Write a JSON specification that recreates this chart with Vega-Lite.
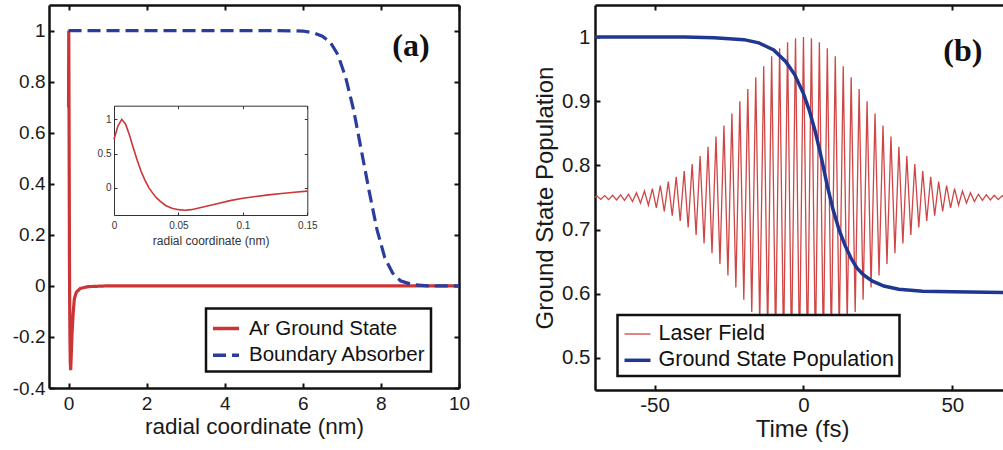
{
  "$schema": "https://vega.github.io/schema/vega-lite/v6.json",
  "padding": {"left": 12, "top": 4, "right": 0, "bottom": 0},
  "background": "white",
  "bounds": "flush",
  "spacing": 136,
  "resolve": {"scale": {"color": "independent", "strokeDash": "independent", "strokeWidth": "independent"}},
  "config": {
    "view": {"stroke": null},
    "font": "Liberation Sans",
    "axis": {"grid": false, "labelFont": "Liberation Sans", "titleFont": "Liberation Sans", "titleFontWeight": "normal", "labelColor": "#1a1a1a", "titleColor": "#1a1a1a", "domainColor": "#111", "tickColor": "#111", "labelFlush": false, "labelOverlap": false},
    "legend": {"strokeColor": "#111", "strokeWidth": 2.5, "fillColor": "white", "cornerRadius": 0, "labelFont": "Liberation Sans", "labelColor": "#111", "labelLimit": 400}
  },
  "hconcat": [
    {
      "width": 410,
      "height": 383,
      "resolve": {"scale": {"x": "independent", "y": "independent"}},
      "layer": [
        {
          "data": {"values": [
            {"series": "Ar Ground State", "r": 0, "v": 0.7},
            {"series": "Ar Ground State", "r": 0.006, "v": 1.0},
            {"series": "Ar Ground State", "r": 0.015, "v": 0.58},
            {"series": "Ar Ground State", "r": 0.024, "v": 0.11},
            {"series": "Ar Ground State", "r": 0.03, "v": -0.08},
            {"series": "Ar Ground State", "r": 0.036, "v": -0.2},
            {"series": "Ar Ground State", "r": 0.045, "v": -0.3},
            {"series": "Ar Ground State", "r": 0.055, "v": -0.33},
            {"series": "Ar Ground State", "r": 0.07, "v": -0.27},
            {"series": "Ar Ground State", "r": 0.09, "v": -0.185},
            {"series": "Ar Ground State", "r": 0.12, "v": -0.105},
            {"series": "Ar Ground State", "r": 0.15, "v": -0.05},
            {"series": "Ar Ground State", "r": 0.2, "v": -0.025},
            {"series": "Ar Ground State", "r": 0.3, "v": -0.01},
            {"series": "Ar Ground State", "r": 0.5, "v": -0.003},
            {"series": "Ar Ground State", "r": 1, "v": 0},
            {"series": "Ar Ground State", "r": 10, "v": 0},
            {"series": "Boundary Absorber", "r": 0, "v": 1},
            {"series": "Boundary Absorber", "r": 5, "v": 1},
            {"series": "Boundary Absorber", "r": 6, "v": 0.998},
            {"series": "Boundary Absorber", "r": 6.3, "v": 0.99},
            {"series": "Boundary Absorber", "r": 6.5, "v": 0.978},
            {"series": "Boundary Absorber", "r": 6.7, "v": 0.955},
            {"series": "Boundary Absorber", "r": 6.9, "v": 0.905},
            {"series": "Boundary Absorber", "r": 7.1, "v": 0.815},
            {"series": "Boundary Absorber", "r": 7.3, "v": 0.69},
            {"series": "Boundary Absorber", "r": 7.5, "v": 0.53},
            {"series": "Boundary Absorber", "r": 7.7, "v": 0.37},
            {"series": "Boundary Absorber", "r": 7.9, "v": 0.22},
            {"series": "Boundary Absorber", "r": 8.1, "v": 0.11},
            {"series": "Boundary Absorber", "r": 8.3, "v": 0.05},
            {"series": "Boundary Absorber", "r": 8.5, "v": 0.02},
            {"series": "Boundary Absorber", "r": 8.8, "v": 0.005},
            {"series": "Boundary Absorber", "r": 9.2, "v": 0},
            {"series": "Boundary Absorber", "r": 10, "v": 0}
          ]},
          "mark": {"type": "line", "clip": true, "strokeWidth": 3.2},
          "encoding": {
            "x": {"field": "r", "type": "quantitative", "scale": {"domain": [-0.5, 10], "nice": false, "zero": false},
              "axis": {"orient": "bottom", "values": [0, 2, 4, 6, 8, 10], "title": "radial coordinate (nm)", "labelFontSize": 19, "labelPadding": 11, "tickSize": -5, "tickWidth": 2, "domainWidth": 2.5, "titleFontSize": 22.5, "titleBaseline": "alphabetic", "titleY": 45, "labelExpr": "replace(format(datum.value, '~g'), '\u2212', '-')"}},
            "y": {"field": "v", "type": "quantitative", "scale": {"domain": [-0.4, 1.1], "nice": false, "zero": false},
              "axis": {"orient": "left", "values": [-0.4, -0.2, 0, 0.2, 0.4, 0.6, 0.8, 1], "title": null, "labelFontSize": 19, "labelPadding": 9, "tickSize": -5, "tickWidth": 2, "domainWidth": 2.5, "labelExpr": "replace(format(datum.value, '~g'), '\u2212', '-')"}},
            "color": {"field": "series", "type": "nominal", "scale": {"domain": ["Ar Ground State", "Boundary Absorber"], "range": ["#cc3535", "#2a3c9c"]},
              "legend": {"orient": "none", "legendX": 157, "legendY": 303.5, "title": null, "direction": "vertical", "symbolType": "stroke", "symbolSize": 676, "symbolStrokeWidth": 3.5, "labelFontSize": 20.5, "padding": 5, "rowPadding": 0.7, "labelOffset": 8}},
            "strokeDash": {"field": "series", "type": "nominal", "scale": {"domain": ["Ar Ground State", "Boundary Absorber"], "range": [[1, 0], [13, 6]]},
              "legend": {"orient": "none", "legendX": 157, "legendY": 303.5, "title": null, "direction": "vertical", "symbolType": "stroke", "symbolSize": 676, "symbolStrokeWidth": 3.5, "labelFontSize": 20.5, "padding": 5, "rowPadding": 0.7, "labelOffset": 8}}
          }
        },
        {
          "data": {"values": [{"label": "(a)"}]},
          "mark": {"type": "text", "font": "Liberation Serif", "fontWeight": "bold", "fontSize": 32, "fill": "#111", "align": "center", "baseline": "middle"},
          "encoding": {
            "x": {"datum": 8.77, "type": "quantitative", "scale": {"domain": [-0.5, 10], "nice": false, "zero": false},
              "axis": {"orient": "top", "values": [0, 2, 4, 6, 8, 10], "labels": false, "title": null, "tickSize": -5, "tickWidth": 2, "domainWidth": 2.5}},
            "y": {"datum": 0.94, "type": "quantitative", "scale": {"domain": [-0.4, 1.1], "nice": false, "zero": false},
              "axis": {"orient": "right", "values": [-0.4, -0.2, 0, 0.2, 0.4, 0.6, 0.8, 1], "labels": false, "title": null, "tickSize": -5, "tickWidth": 2, "domainWidth": 2.5}},
            "text": {"field": "label"}
          }
        },
        {
          "data": {"name": "inset", "values": [
            {"r": 0, "v": 0.71}, {"r": 0.003, "v": 0.9}, {"r": 0.006, "v": 1.0}, {"r": 0.009, "v": 0.93},
            {"r": 0.012, "v": 0.77}, {"r": 0.015, "v": 0.58}, {"r": 0.018, "v": 0.4}, {"r": 0.021, "v": 0.24},
            {"r": 0.024, "v": 0.11}, {"r": 0.027, "v": 0.0}, {"r": 0.03, "v": -0.08}, {"r": 0.033, "v": -0.15},
            {"r": 0.036, "v": -0.2}, {"r": 0.04, "v": -0.26}, {"r": 0.045, "v": -0.3}, {"r": 0.05, "v": -0.322},
            {"r": 0.055, "v": -0.33}, {"r": 0.06, "v": -0.322}, {"r": 0.07, "v": -0.28}, {"r": 0.08, "v": -0.235},
            {"r": 0.09, "v": -0.19}, {"r": 0.1, "v": -0.155}, {"r": 0.11, "v": -0.128}, {"r": 0.12, "v": -0.105},
            {"r": 0.13, "v": -0.085}, {"r": 0.14, "v": -0.066}, {"r": 0.15, "v": -0.05}
          ]},
          "mark": {"type": "line", "color": "#cc3535", "strokeWidth": 1.6},
          "encoding": {
            "x": {"field": "r", "type": "quantitative", "scale": {"domain": [0, 0.15], "range": [65, 258.3], "nice": false, "zero": false},
              "axis": {"orient": "bottom", "offset": -173, "values": [0, 0.05, 0.1, 0.15], "labelFontSize": 10, "labelPadding": 8, "tickSize": -3, "tickWidth": 1, "domainWidth": 1, "domainColor": "#333", "tickColor": "#333", "labelColor": "#333", "title": "radial coordinate (nm)", "titleFontSize": 12, "titleColor": "#333", "titleBaseline": "alphabetic", "titleY": 29, "labelExpr": "format(datum.value, '~g')"}},
            "y": {"field": "v", "type": "quantitative", "scale": {"domain": [-0.4, 1.2], "range": [210, 100.7], "nice": false, "zero": false},
              "axis": {"orient": "left", "offset": -65, "values": [0, 0.5, 1], "labelFontSize": 10, "labelPadding": 6, "tickSize": -3, "tickWidth": 1, "domainWidth": 1, "domainColor": "#333", "tickColor": "#333", "labelColor": "#333", "title": null, "labelExpr": "format(datum.value, '~g')"}}
          }
        },
        {
          "data": {"name": "inset"},
          "mark": {"type": "line", "strokeOpacity": 0},
          "encoding": {
            "x": {"field": "r", "type": "quantitative", "scale": {"domain": [0, 0.15], "range": [65, 258.3], "nice": false, "zero": false},
              "axis": {"orient": "top", "offset": -100.7, "values": [0, 0.05, 0.1, 0.15], "labels": false, "tickSize": -3, "tickWidth": 1, "domainWidth": 1, "domainColor": "#333", "tickColor": "#333", "title": null}},
            "y": {"field": "v", "type": "quantitative", "scale": {"domain": [-0.4, 1.2], "range": [210, 100.7], "nice": false, "zero": false},
              "axis": {"orient": "right", "offset": -151.7, "values": [0, 0.5, 1], "labels": false, "tickSize": -3, "tickWidth": 1, "domainWidth": 1, "domainColor": "#333", "tickColor": "#333", "title": null}}
          }
        }
      ]
    },
    {
      "width": 408,
      "height": 385,
      "resolve": {"scale": {"x": "independent", "y": "independent"}},
      "layer": [
        {
          "data": {"values": [
            {"series": "Laser Field", "t": -70, "v": 0.75},
            {"series": "Laser Field", "t": -69.42, "v": 0.753},
            {"series": "Laser Field", "t": -68.09, "v": 0.747},
            {"series": "Laser Field", "t": -66.75, "v": 0.753},
            {"series": "Laser Field", "t": -65.42, "v": 0.7467},
            {"series": "Laser Field", "t": -64.08, "v": 0.7535},
            {"series": "Laser Field", "t": -62.75, "v": 0.7462},
            {"series": "Laser Field", "t": -61.41, "v": 0.754},
            {"series": "Laser Field", "t": -60.08, "v": 0.7456},
            {"series": "Laser Field", "t": -58.74, "v": 0.7552},
            {"series": "Laser Field", "t": -57.41, "v": 0.7438},
            {"series": "Laser Field", "t": -56.07, "v": 0.7574},
            {"series": "Laser Field", "t": -54.74, "v": 0.7413},
            {"series": "Laser Field", "t": -53.4, "v": 0.7602},
            {"series": "Laser Field", "t": -52.07, "v": 0.7381},
            {"series": "Laser Field", "t": -50.73, "v": 0.7639},
            {"series": "Laser Field", "t": -49.4, "v": 0.7338},
            {"series": "Laser Field", "t": -48.06, "v": 0.7687},
            {"series": "Laser Field", "t": -46.73, "v": 0.7284},
            {"series": "Laser Field", "t": -45.39, "v": 0.7748},
            {"series": "Laser Field", "t": -44.06, "v": 0.7217},
            {"series": "Laser Field", "t": -42.72, "v": 0.7823},
            {"series": "Laser Field", "t": -41.39, "v": 0.7134},
            {"series": "Laser Field", "t": -40.05, "v": 0.7913},
            {"series": "Laser Field", "t": -38.72, "v": 0.7035},
            {"series": "Laser Field", "t": -37.38, "v": 0.8021},
            {"series": "Laser Field", "t": -36.05, "v": 0.6918},
            {"series": "Laser Field", "t": -34.71, "v": 0.8147},
            {"series": "Laser Field", "t": -33.38, "v": 0.6784},
            {"series": "Laser Field", "t": -32.04, "v": 0.829},
            {"series": "Laser Field", "t": -30.71, "v": 0.6632},
            {"series": "Laser Field", "t": -29.37, "v": 0.845},
            {"series": "Laser Field", "t": -28.04, "v": 0.6465},
            {"series": "Laser Field", "t": -26.7, "v": 0.8623},
            {"series": "Laser Field", "t": -25.37, "v": 0.6285},
            {"series": "Laser Field", "t": -24.03, "v": 0.8808},
            {"series": "Laser Field", "t": -22.7, "v": 0.6097},
            {"series": "Laser Field", "t": -21.36, "v": 0.8998},
            {"series": "Laser Field", "t": -20.03, "v": 0.5906},
            {"series": "Laser Field", "t": -18.69, "v": 0.9189},
            {"series": "Laser Field", "t": -17.36, "v": 0.5717},
            {"series": "Laser Field", "t": -16.02, "v": 0.9375},
            {"series": "Laser Field", "t": -14.69, "v": 0.5537},
            {"series": "Laser Field", "t": -13.35, "v": 0.9547},
            {"series": "Laser Field", "t": -12.02, "v": 0.5374},
            {"series": "Laser Field", "t": -10.68, "v": 0.97},
            {"series": "Laser Field", "t": -9.35, "v": 0.5233},
            {"series": "Laser Field", "t": -8.01, "v": 0.9826},
            {"series": "Laser Field", "t": -6.68, "v": 0.5122},
            {"series": "Laser Field", "t": -5.34, "v": 0.9921},
            {"series": "Laser Field", "t": -4.01, "v": 0.5045},
            {"series": "Laser Field", "t": -2.67, "v": 0.998},
            {"series": "Laser Field", "t": -1.34, "v": 0.5005},
            {"series": "Laser Field", "t": 0, "v": 1.0},
            {"series": "Laser Field", "t": 1.34, "v": 0.5005},
            {"series": "Laser Field", "t": 2.67, "v": 0.998},
            {"series": "Laser Field", "t": 4.01, "v": 0.5045},
            {"series": "Laser Field", "t": 5.34, "v": 0.9921},
            {"series": "Laser Field", "t": 6.68, "v": 0.5122},
            {"series": "Laser Field", "t": 8.01, "v": 0.9826},
            {"series": "Laser Field", "t": 9.35, "v": 0.5233},
            {"series": "Laser Field", "t": 10.68, "v": 0.97},
            {"series": "Laser Field", "t": 12.02, "v": 0.5374},
            {"series": "Laser Field", "t": 13.35, "v": 0.9547},
            {"series": "Laser Field", "t": 14.69, "v": 0.5537},
            {"series": "Laser Field", "t": 16.02, "v": 0.9375},
            {"series": "Laser Field", "t": 17.36, "v": 0.5717},
            {"series": "Laser Field", "t": 18.69, "v": 0.9189},
            {"series": "Laser Field", "t": 20.03, "v": 0.5906},
            {"series": "Laser Field", "t": 21.36, "v": 0.8998},
            {"series": "Laser Field", "t": 22.7, "v": 0.6097},
            {"series": "Laser Field", "t": 24.03, "v": 0.8808},
            {"series": "Laser Field", "t": 25.37, "v": 0.6285},
            {"series": "Laser Field", "t": 26.7, "v": 0.8623},
            {"series": "Laser Field", "t": 28.04, "v": 0.6465},
            {"series": "Laser Field", "t": 29.37, "v": 0.845},
            {"series": "Laser Field", "t": 30.71, "v": 0.6632},
            {"series": "Laser Field", "t": 32.04, "v": 0.829},
            {"series": "Laser Field", "t": 33.38, "v": 0.6784},
            {"series": "Laser Field", "t": 34.71, "v": 0.8147},
            {"series": "Laser Field", "t": 36.05, "v": 0.6918},
            {"series": "Laser Field", "t": 37.38, "v": 0.8021},
            {"series": "Laser Field", "t": 38.72, "v": 0.7035},
            {"series": "Laser Field", "t": 40.05, "v": 0.7913},
            {"series": "Laser Field", "t": 41.39, "v": 0.7134},
            {"series": "Laser Field", "t": 42.72, "v": 0.7823},
            {"series": "Laser Field", "t": 44.06, "v": 0.7217},
            {"series": "Laser Field", "t": 45.39, "v": 0.7748},
            {"series": "Laser Field", "t": 46.73, "v": 0.7284},
            {"series": "Laser Field", "t": 48.06, "v": 0.7687},
            {"series": "Laser Field", "t": 49.4, "v": 0.7338},
            {"series": "Laser Field", "t": 50.73, "v": 0.7639},
            {"series": "Laser Field", "t": 52.07, "v": 0.7381},
            {"series": "Laser Field", "t": 53.4, "v": 0.7602},
            {"series": "Laser Field", "t": 54.74, "v": 0.7413},
            {"series": "Laser Field", "t": 56.07, "v": 0.7574},
            {"series": "Laser Field", "t": 57.41, "v": 0.7438},
            {"series": "Laser Field", "t": 58.74, "v": 0.7552},
            {"series": "Laser Field", "t": 60.08, "v": 0.7456},
            {"series": "Laser Field", "t": 61.41, "v": 0.754},
            {"series": "Laser Field", "t": 62.75, "v": 0.7462},
            {"series": "Laser Field", "t": 64.08, "v": 0.7535},
            {"series": "Laser Field", "t": 65.42, "v": 0.7467},
            {"series": "Laser Field", "t": 66.75, "v": 0.753},
            {"series": "Laser Field", "t": 68.09, "v": 0.747},
            {"series": "Ground State Population", "t": -70, "v": 1.0},
            {"series": "Ground State Population", "t": -40, "v": 1.0},
            {"series": "Ground State Population", "t": -30, "v": 0.999},
            {"series": "Ground State Population", "t": -20, "v": 0.996},
            {"series": "Ground State Population", "t": -15, "v": 0.991},
            {"series": "Ground State Population", "t": -10, "v": 0.98},
            {"series": "Ground State Population", "t": -6, "v": 0.962},
            {"series": "Ground State Population", "t": -3, "v": 0.942},
            {"series": "Ground State Population", "t": 0, "v": 0.912},
            {"series": "Ground State Population", "t": 2, "v": 0.885},
            {"series": "Ground State Population", "t": 4, "v": 0.852},
            {"series": "Ground State Population", "t": 6, "v": 0.812},
            {"series": "Ground State Population", "t": 8, "v": 0.768},
            {"series": "Ground State Population", "t": 10, "v": 0.73},
            {"series": "Ground State Population", "t": 12, "v": 0.699},
            {"series": "Ground State Population", "t": 14, "v": 0.675},
            {"series": "Ground State Population", "t": 16, "v": 0.655},
            {"series": "Ground State Population", "t": 18, "v": 0.64},
            {"series": "Ground State Population", "t": 20, "v": 0.63},
            {"series": "Ground State Population", "t": 23, "v": 0.62},
            {"series": "Ground State Population", "t": 27, "v": 0.612},
            {"series": "Ground State Population", "t": 32, "v": 0.607},
            {"series": "Ground State Population", "t": 40, "v": 0.604},
            {"series": "Ground State Population", "t": 50, "v": 0.603},
            {"series": "Ground State Population", "t": 68, "v": 0.602}
          ]},
          "mark": {"type": "line", "clip": true},
          "encoding": {
            "x": {"field": "t", "type": "quantitative", "scale": {"domain": [-70, 67], "nice": false, "zero": false},
              "axis": {"orient": "bottom", "values": [-50, 0, 50], "title": "Time (fs)", "labelFontSize": 20.5, "labelPadding": 10, "tickSize": -5, "tickWidth": 2, "domainWidth": 2.5, "titleFontSize": 24, "titleBaseline": "alphabetic", "titleY": 46.5, "titleX": 207, "labelExpr": "replace(format(datum.value, '~g'), '\u2212', '-')"}},
            "y": {"field": "v", "type": "quantitative", "scale": {"domain": [0.45, 1.05], "nice": false, "zero": false},
              "axis": {"orient": "left", "values": [0.5, 0.6, 0.7, 0.8, 0.9, 1], "title": "Ground State Population", "titleFontSize": 24, "titleX": -43, "titleBaseline": "alphabetic", "labelFontSize": 20.5, "labelPadding": 10, "tickSize": -5, "tickWidth": 2, "domainWidth": 2.5, "labelExpr": "format(datum.value, '~g')"}},
            "color": {"field": "series", "type": "nominal", "scale": {"domain": ["Laser Field", "Ground State Population"], "range": ["#d04545", "#1f3791"]},
              "legend": {"orient": "none", "legendX": 22.5, "legendY": 310, "title": null, "direction": "vertical", "symbolType": "stroke", "symbolSize": 676, "labelFontSize": 21.5, "padding": 5, "rowPadding": 0.3, "labelOffset": 6}},
            "strokeWidth": {"field": "series", "type": "nominal", "scale": {"domain": ["Laser Field", "Ground State Population"], "range": [1.3, 3.5]},
              "legend": {"orient": "none", "legendX": 22.5, "legendY": 310, "title": null, "direction": "vertical", "symbolType": "stroke", "symbolSize": 676, "labelFontSize": 21.5, "padding": 5, "rowPadding": 0.3, "labelOffset": 6}}
          }
        },
        {
          "data": {"values": [{"label": "(b)"}]},
          "mark": {"type": "text", "font": "Liberation Serif", "fontWeight": "bold", "fontSize": 32, "fill": "#111", "align": "center", "baseline": "middle"},
          "encoding": {
            "x": {"datum": 53.5, "type": "quantitative", "scale": {"domain": [-70, 67], "nice": false, "zero": false},
              "axis": {"orient": "top", "values": [-50, 0, 50], "labels": false, "title": null, "tickSize": -5, "tickWidth": 2, "domainWidth": 2.5}},
            "y": {"datum": 0.979, "type": "quantitative", "scale": {"domain": [0.45, 1.05], "nice": false, "zero": false}, "axis": null},
            "text": {"field": "label"}
          }
        }
      ]
    }
  ]
}
